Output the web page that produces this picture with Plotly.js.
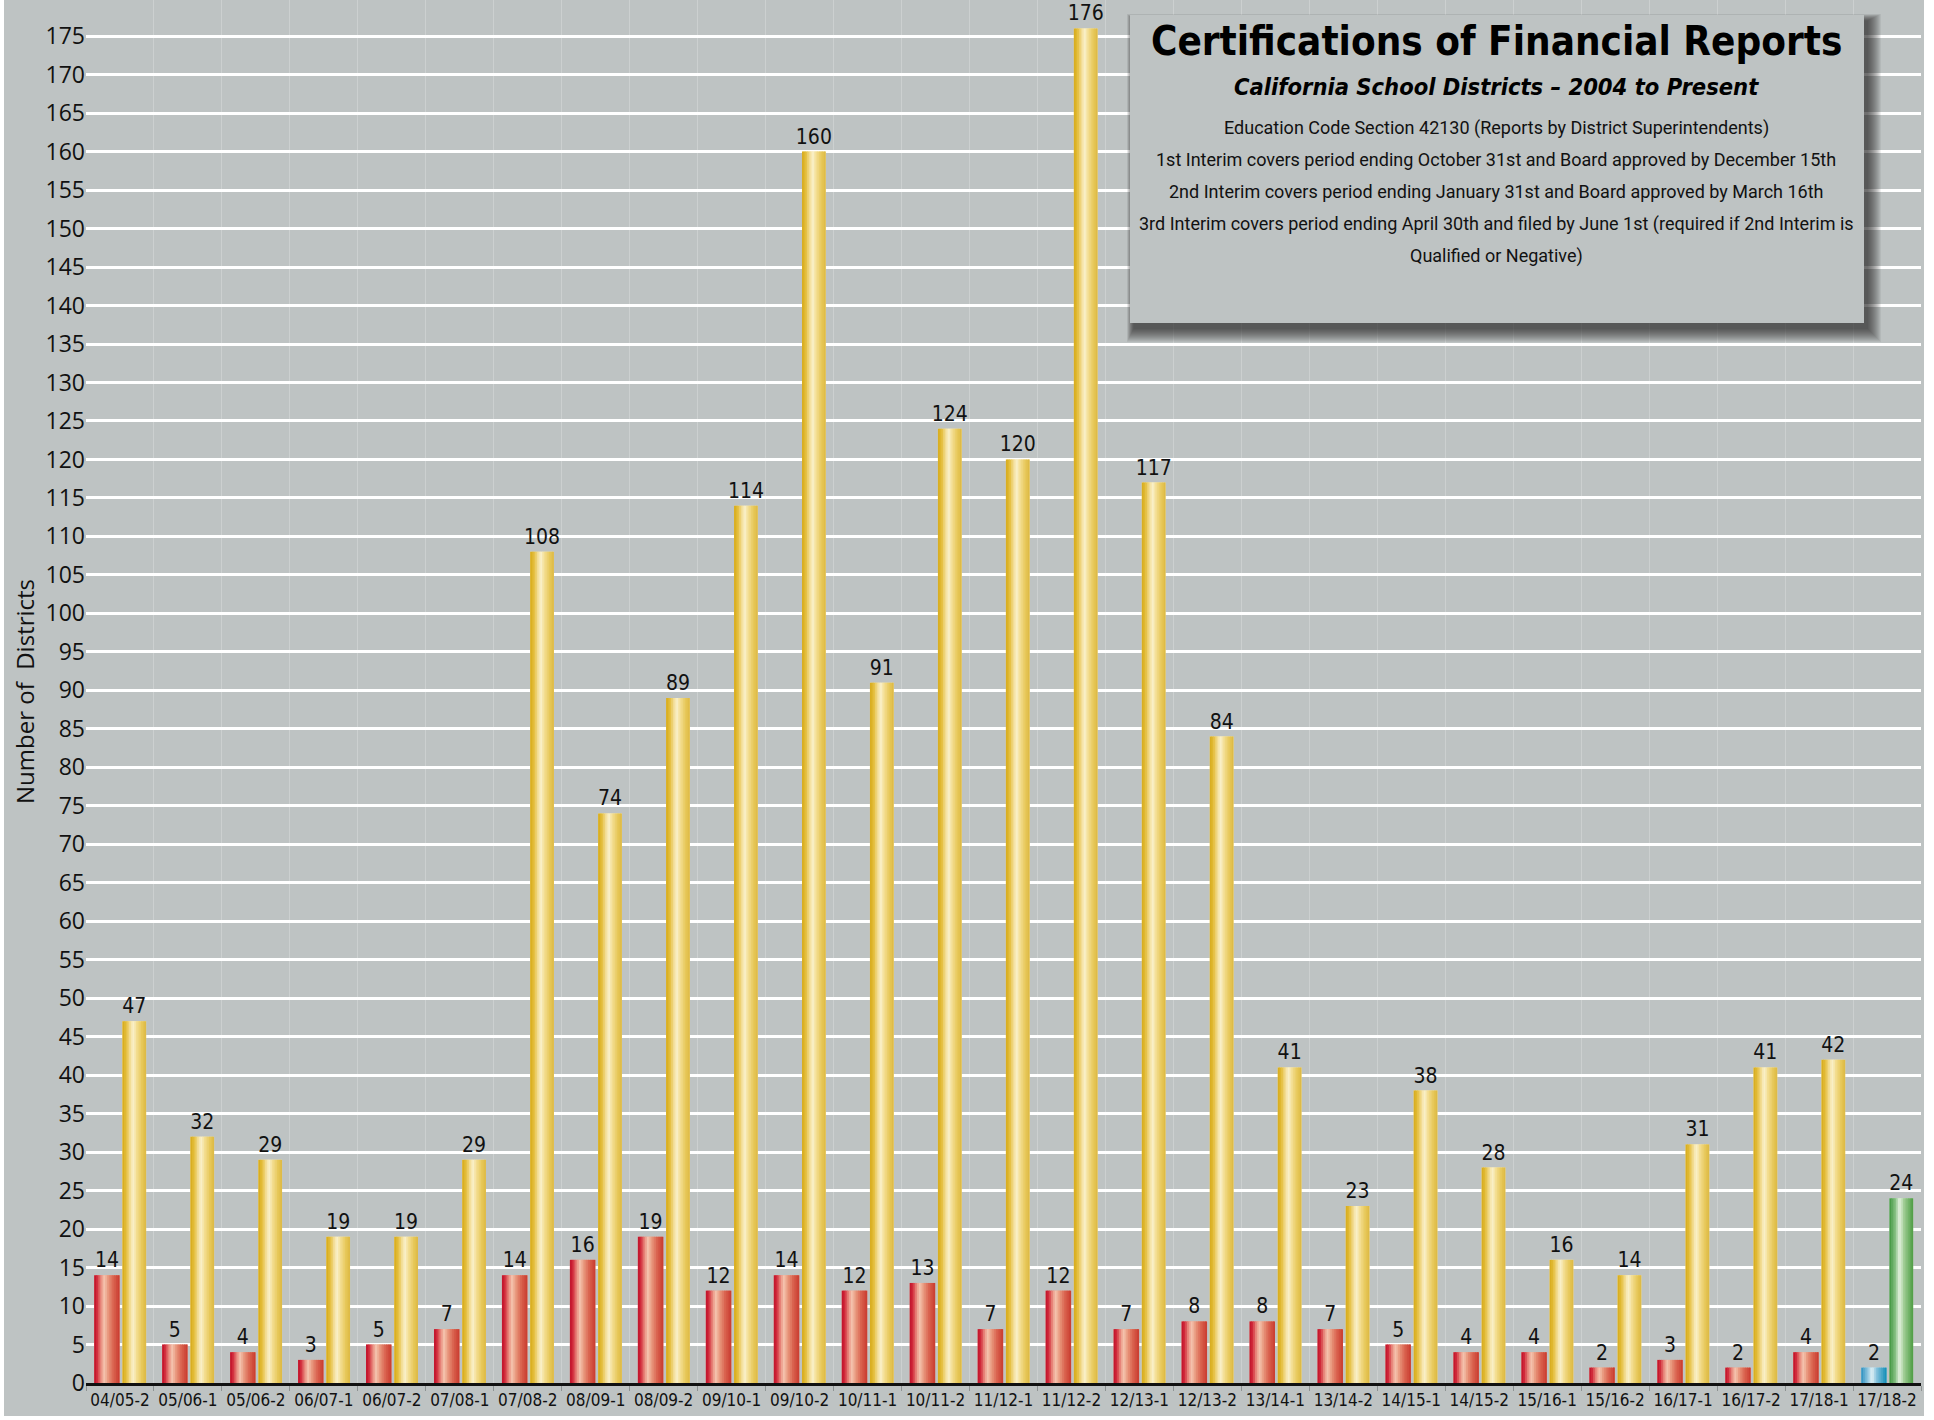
<!DOCTYPE html>
<html>
<head>
<meta charset="utf-8">
<script src="https://cdn.plot.ly/plotly-3.0.1.min.js"></script>
<style>
html,body{margin:0;padding:0;background:#ffffff;}
#chart{width:1934px;height:1420px;}
</style>
</head>
<body>
<div id="chart"></div>
<script>
// ---------------- data ----------------
const categories = ["04/05-2","05/06-1","05/06-2","06/07-1","06/07-2","07/08-1","07/08-2","08/09-1","08/09-2",
  "09/10-1","09/10-2","10/11-1","10/11-2","11/12-1","11/12-2","12/13-1","12/13-2","13/14-1","13/14-2",
  "14/15-1","14/15-2","15/16-1","15/16-2","16/17-1","16/17-2","17/18-1","17/18-2"];
const negativeCounts = [14,5,4,3,5,7,14,16,19,12,14,12,13,7,12,7,8,8,7,5,4,4,2,3,2,4,2];
const qualifiedCounts = [47,32,29,19,19,29,108,74,89,114,160,91,124,120,176,117,84,41,23,38,28,16,14,31,41,42,24];
const yTickValues = [0,5,10,15,20,25,30,35,40,45,50,55,60,65,70,75,80,85,90,95,100,105,110,115,120,125,130,135,140,145,150,155,160,165,170,175];
const highlightIndex = categories.length - 1;

const titleText = "Certifications of Financial Reports";
const subtitleText = "California School Districts \u2013 2004 to Present";
const noteLines = [
  "Education Code Section 42130 (Reports by District Superintendents)",
  "1st Interim covers period ending October 31st and Board approved by December 15th",
  "2nd Interim covers period ending January 31st and Board approved by March 16th",
  "3rd Interim covers period ending April 30th and filed by June 1st (required if 2nd Interim is",
  "Qualified or Negative)"
];
const yTitle = "Number of \u00a0Districts";

// ---------------- styling ----------------
const W = 1934, H = 1420;
const M = {l:86, r:13, t:0, b:37};
const PW = W - M.l - M.r, PH = H - M.t - M.b;
const px2x = p => (p - M.l) / PW;
const px2y = p => (H - M.b - p) / PH;

const NARROW = "DejaVu Sans Condensed, DejaVu Sans, sans-serif";
const BODY = "Roboto, DejaVu Sans Condensed, sans-serif";
const REG = "Open Sans, Noto Sans, sans-serif";
const BG = "#bec3c3";

const redStops = [[0,"#be0f2a"],[0.12,"#d22c3c"],[0.28,"#ea9484"],[0.40,"#f5c4ae"],[0.55,"#e8977c"],[0.75,"#da6450"],[1,"#c83a2e"]];
const yellowStops = [[0,"#d6aa1c"],[0.15,"#e3bc36"],[0.33,"#f3de98"],[0.45,"#faf1cc"],[0.6,"#f3de92"],[0.82,"#e7c85a"],[1,"#dcb842"]];
const blueStops = [[0,"#2b8fc0"],[0.25,"#8cc4de"],[0.42,"#e2f1f6"],[0.62,"#7fbfdb"],[1,"#0f8db6"]];
const greenStops = [[0,"#3f963f"],[0.25,"#86c084"],[0.42,"#e6f3e2"],[0.62,"#9dcb92"],[1,"#4c9b42"]];

function hexToRgb(h){return [parseInt(h.slice(1,3),16),parseInt(h.slice(3,5),16),parseInt(h.slice(5,7),16)];}
function lerpColor(stops,t){
  for(let i=0;i<stops.length-1;i++){
    const [t0,c0]=stops[i],[t1,c1]=stops[i+1];
    if(t>=t0 && t<=t1){
      const f=(t-t0)/(t1-t0), a=hexToRgb(c0), b=hexToRgb(c1);
      return "rgb("+a.map((v,k)=>Math.round(v+(b[k]-v)*f)).join(",")+")";
    }
  }
  return stops[stops.length-1][1];
}

function barTraces(values, start, width, stops, hiStops){
  const N = 14;
  const traces = [];
  traces.push({
    type:"bar", x:categories, y:values, offset:start, width:width,
    marker:{color: values.map((v,i)=>lerpColor(i===highlightIndex?hiStops:stops,0.5)), line:{width:0}},
    text: values.map(v=>String(v)), texttemplate:"%{text}", textposition:"outside",
    textfont:{family:NARROW, size:21, color:"#111111"}, constraintext:"none", cliponaxis:false,
    hoverinfo:"skip", showlegend:false
  });
  for(let i=0;i<N;i++){
    const t=(i+0.5)/N;
    const w = width/N*(i===N-1?1:1.4);
    traces.push({
      type:"bar", x:categories, y:values, offset:start+width*i/N, width:w,
      marker:{color: values.map((v,k)=>lerpColor(k===highlightIndex?hiStops:stops,t)), line:{width:0}},
      hoverinfo:"skip", showlegend:false
    });
  }
  return traces;
}

const data = [].concat(
  barTraces(negativeCounts, -0.38, 0.375, redStops, blueStops),
  barTraces(qualifiedCounts, 0.035, 0.35, yellowStops, greenStops)
);

// ---------------- panel box ----------------
const box = {x0:1130, x1:1864, y0:15, y1:323};
const shapes = [];
// white border strips around the grey picture
shapes.push({type:"rect", xref:"paper", yref:"paper", x0:px2x(0), x1:px2x(4), y0:px2y(H), y1:px2y(0), fillcolor:"#ffffff", line:{width:0}, layer:"above"});
shapes.push({type:"rect", xref:"paper", yref:"paper", x0:px2x(1924), x1:px2x(W), y0:px2y(H), y1:px2y(0), fillcolor:"#ffffff", line:{width:0}, layer:"above"});
shapes.push({type:"rect", xref:"paper", yref:"paper", x0:px2x(0), x1:px2x(W), y0:px2y(H), y1:px2y(1416), fillcolor:"#ffffff", line:{width:0}, layer:"above"});
// soft drop shadow
for(let k=0;k<14;k++){
  const e = 14 - k;
  shapes.push({type:"rect", xref:"paper", yref:"paper",
    x0:px2x(box.x0+4-e*0.5), x1:px2x(box.x1+3+e), y0:px2y(box.y1+5+e), y1:px2y(box.y0+6-e*0.5),
    fillcolor:"rgba(25,25,25,0.065)", line:{width:0}, layer:"above"});
}
shapes.push({type:"rect", xref:"paper", yref:"paper", x0:px2x(box.x0), x1:px2x(box.x1), y0:px2y(box.y1), y1:px2y(box.y0),
  fillcolor:BG, line:{width:0}, layer:"above"});

const cx = px2x(1496);
const annotations = [
  {text:titleText, x:cx, y:px2y(41), xref:"paper", yref:"paper", showarrow:false, xanchor:"center", yanchor:"middle",
   font:{family:NARROW, size:40, weight:"bold", color:"#000000"}},
  {text:subtitleText, x:cx, y:px2y(87), xref:"paper", yref:"paper", showarrow:false, xanchor:"center", yanchor:"middle",
   font:{family:NARROW, size:23.5, weight:"bold", style:"italic", color:"#000000"}}
];
const lineYs = [128,160,192,224,256];
noteLines.forEach((t,i)=>annotations.push({text:t, x:cx, y:px2y(lineYs[i]), xref:"paper", yref:"paper", showarrow:false,
  xanchor:"center", yanchor:"middle", font:{family:BODY, size:18, color:"#111111"}}));

const layout = {
  width:W, height:H, margin:M,
  paper_bgcolor:BG, plot_bgcolor:BG,
  barmode:"overlay", showlegend:false,
  xaxis:{type:"category", range:[-0.5, categories.length-0.5], showline:true, linecolor:"#111111", linewidth:3,
    tickson:"boundaries", ticks:"outside", ticklen:5, tickwidth:1, tickcolor:"#8e9393",
    showgrid:true, gridcolor:"rgba(255,255,255,0.22)", gridwidth:1, zeroline:false,
    tickangle:0, tickfont:{family:NARROW, size:17, color:"#111111"}, fixedrange:true},
  yaxis:{range:[0,179.7], tickmode:"array", tickvals:yTickValues, ticktext:yTickValues.map(String),
    showgrid:true, gridcolor:"#ffffff", gridwidth:3, zeroline:false, showline:false, ticks:"",
    tickfont:{family:REG, size:23, color:"#111111"}, fixedrange:true,
    title:{text:yTitle, font:{family:REG, size:24, color:"#111111"}, standoff:4}},
  shapes:shapes, annotations:annotations
};

Plotly.newPlot("chart", data, layout, {displayModeBar:false, staticPlot:true});
</script>
</body>
</html>
